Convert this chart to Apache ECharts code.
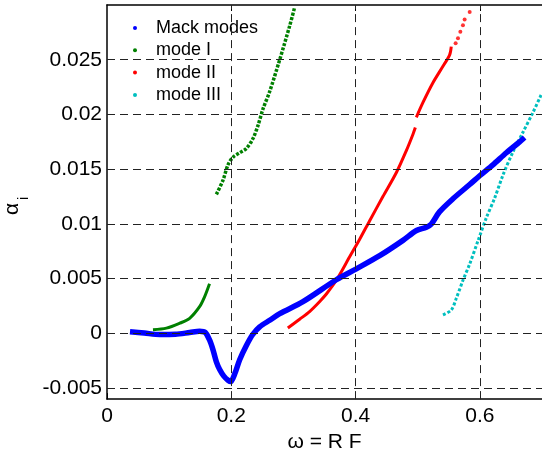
<!DOCTYPE html>
<html>
<head>
<meta charset="utf-8">
<script src="https://cdn.jsdelivr.net/npm/echarts@6/dist/echarts.min.js"></script>
<style>
  html, body { margin: 0; padding: 0; background: #fff; }
  #chart { width: 542px; height: 458px; }
</style>
</head>
<body>
<div id="chart"></div>
<script>
// Tick positions
const xTicks = [0, 0.2, 0.4, 0.6];
const xGrid = [0.2, 0.4, 0.6];
const yTicks = [-0.005, 0, 0.005, 0.01, 0.015, 0.02, 0.025];

// Mack modes: growth rate alpha_i against omega
const mackModes = [
  [0.037, 0.00015], [0.06, 0.00003], [0.085, -0.0001], [0.11, -0.00008],
  [0.133, 0.00008], [0.149, 0.0002], [0.158, 0.0001], [0.165, -0.0006],
  [0.1706, -0.0015], [0.176, -0.0026], [0.1813, -0.0033], [0.188, -0.0039],
  [0.1953, -0.0043], [0.199, -0.0044], [0.2055, -0.0037], [0.2135, -0.0024],
  [0.2243, -0.0011], [0.2345, -0.0001], [0.2457, 0.0006], [0.2618, 0.0012],
  [0.278, 0.0018], [0.3154, 0.0029], [0.369, 0.0049], [0.4013, 0.0059],
  [0.4388, 0.0071], [0.4763, 0.0085], [0.498, 0.0094], [0.514, 0.0097],
  [0.522, 0.0100], [0.535, 0.0111], [0.5567, 0.0123], [0.5836, 0.0136],
  [0.5997, 0.0144], [0.621, 0.0154], [0.6426, 0.0165], [0.664, 0.0175],
  [0.672, 0.0179]
];

// Mode I, low-frequency branch
const modeILow = [
  [0.074, 0.00033], [0.0956, 0.00048], [0.117, 0.00093], [0.133, 0.00138],
  [0.149, 0.00244], [0.157, 0.00334], [0.165, 0.00454]
];

// Mode I, upper branch
const modeIHigh = [
  [0.176, 0.0127], [0.1867, 0.0140], [0.1947, 0.0154], [0.2027, 0.0161],
  [0.2135, 0.0165], [0.2243, 0.0169], [0.2349, 0.0178], [0.243, 0.0190],
  [0.251, 0.0205], [0.2618, 0.0221], [0.2779, 0.0250], [0.294, 0.0281],
  [0.302, 0.0298]
];

// Mode II
const modeIILow = [
  [0.291, 0.0005], [0.31, 0.0013], [0.326, 0.0020], [0.342, 0.0029],
  [0.353, 0.0036], [0.369, 0.00485], [0.3905, 0.0070], [0.4066, 0.0086],
  [0.4227, 0.0103], [0.444, 0.0125], [0.4657, 0.0147], [0.4817, 0.0167],
  [0.4924, 0.0182], [0.4962, 0.0188]
];
const modeIIHigh = [
  [0.4978, 0.01974], [0.5085, 0.0211], [0.5245, 0.0229], [0.5406, 0.0244],
  [0.5514, 0.02545], [0.554, 0.0262]
];
const modeIITail = [
  [0.561, 0.0265], [0.5648, 0.02696], [0.5686, 0.02756], [0.5728, 0.02816],
  [0.5755, 0.02867], [0.5836, 0.02936]
];

// Mode III
const modeIII = [
  [0.5406, 0.00169], [0.554, 0.00214], [0.562, 0.00319], [0.5728, 0.00485],
  [0.5836, 0.00634], [0.597, 0.00846], [0.6104, 0.01056], [0.6238, 0.01236],
  [0.6372, 0.01447], [0.6533, 0.01658], [0.6694, 0.01838], [0.6855, 0.02019],
  [0.699, 0.02184]
];

const BLUE = '#0000ff', GREEN = '#008000', RED = '#ff0000', CYAN = '#00bfbf';
const FONT = '"Liberation Sans", Arial, sans-serif';

const chart = echarts.init(document.getElementById('chart'), null, { renderer: 'canvas' });

function curve(name, data, color, width, dash, z) {
  return {
    name: name, type: 'line', data: data, showSymbol: false, smooth: 0.3,
    z: z || 3, silent: true, animation: false,
    itemStyle: { color: color },
    lineStyle: { color: color, width: width, type: dash || 'solid', cap: 'butt' }
  };
}

const gridDash = { type: [8, 5], color: '#222', width: 1 };

chart.setOption({
  animation: false,
  grid: { left: 107, top: 5, width: 435, height: 398, containLabel: false },
  legend: {
    data: ['Mack modes', 'mode I', 'mode II', 'mode III'],
    orient: 'vertical', left: 128, top: 14,
    icon: 'circle', itemWidth: 32, itemHeight: 4, itemGap: 4.3,
    textStyle: { fontFamily: FONT, fontSize: 18, color: '#000', lineHeight: 18 },
    selectedMode: false
  },
  xAxis: [{
    type: 'value', min: 0, max: 0.7, position: 'bottom',
    name: 'ω = R F', nameLocation: 'middle', nameGap: 26,
    nameTextStyle: { fontFamily: FONT, fontSize: 21, color: '#000' },
    axisLine: { show: true, onZero: false, lineStyle: { color: '#000', width: 1.5 } },
    axisTick: { show: true, inside: true, length: 6, customValues: xTicks, lineStyle: { color: '#000', width: 1 } },
    axisLabel: { customValues: xTicks, margin: 7, fontFamily: FONT, fontSize: 21, color: '#000',
                 formatter: v => String(v) },
    splitLine: { show: false }
  }, {
    type: 'value', min: 0, max: 0.7, position: 'top',
    axisLine: { show: true, onZero: false, lineStyle: { color: '#000', width: 1.5 } },
    axisTick: { show: true, inside: true, length: 6, customValues: xGrid, lineStyle: { color: '#000', width: 1 } },
    axisLabel: { show: false },
    splitLine: { show: false }
  }],
  yAxis: {
    type: 'value', min: -0.006, max: 0.03,
    axisLine: { show: true, onZero: false, lineStyle: { color: '#000', width: 1.5 } },
    axisTick: { show: true, inside: true, length: 6, customValues: yTicks, lineStyle: { color: '#000', width: 1 } },
    axisLabel: { customValues: yTicks, margin: 5, fontFamily: FONT, fontSize: 21, color: '#000',
                 formatter: v => String(v) },
    splitLine: { show: false }
  },
  graphic: [{
    type: 'group', x: 17, y: 215, rotation: Math.PI / 2, silent: true,
    children: [
      { type: 'text', x: 0, y: -5, style: { text: 'α', font: '21px ' + FONT, fill: '#000', textVerticalAlign: 'middle' } },
      { type: 'text', x: 15, y: 7, style: { text: 'i', font: '14px ' + FONT, fill: '#000', textVerticalAlign: 'middle' } }
    ]
  }],
  series: [
    {
      name: 'grid', type: 'line', data: [], z: 1, silent: true,
      markLine: {
        silent: true, symbol: ['none', 'none'], animation: false, precision: 6,
        label: { show: false }, lineStyle: gridDash,
        data: yTicks.map(v => ({ yAxis: v })).concat(xGrid.map(v => ({ xAxis: v })))
      }
    },
    curve('mode I', modeILow, GREEN, 3),
    curve('mode I', modeIHigh, GREEN, 3.5, [3, 1.5]),
    curve('mode II', modeIILow, RED, 3),
    curve('mode II', modeIIHigh, RED, 3),
    {
      name: 'mode II', type: 'scatter', data: modeIITail, symbol: 'circle', symbolSize: 4,
      itemStyle: { color: RED }, silent: true, z: 3
    },
    curve('mode III', modeIII, CYAN, 3, [3, 2]),
    curve('Mack modes', mackModes, BLUE, 5.5, 'solid', 4)
  ]
});
</script>
</body>
</html>
